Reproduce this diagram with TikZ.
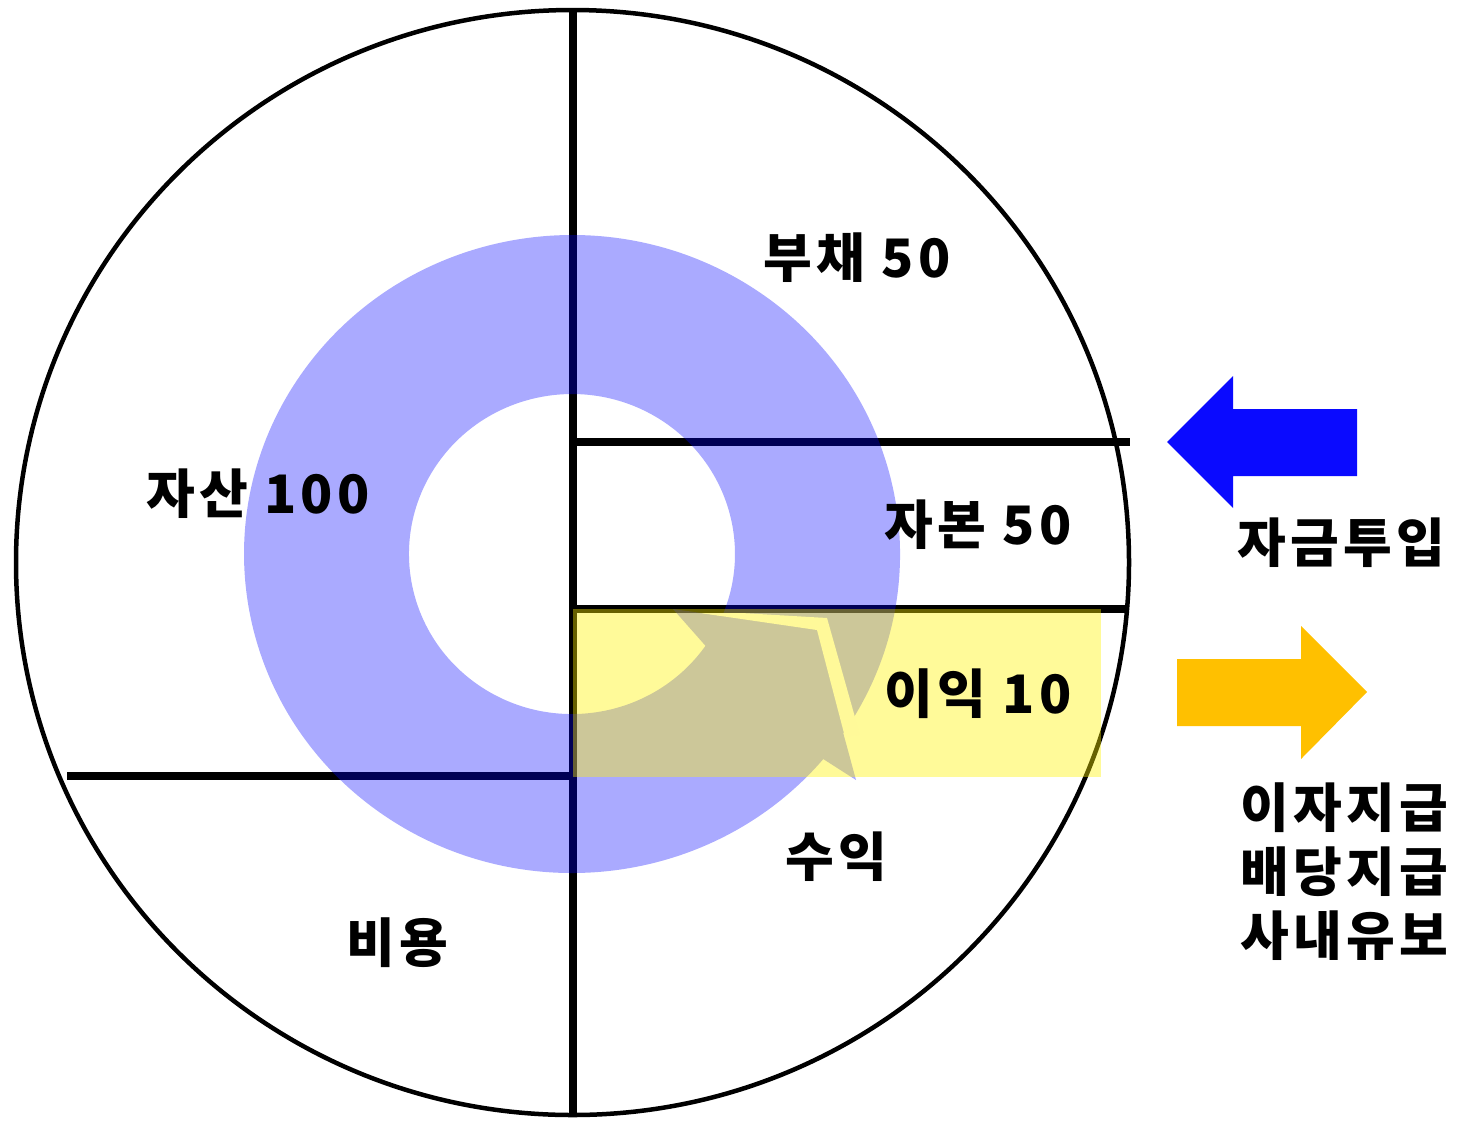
\documentclass[tikz,border=0pt]{standalone}
\usepackage{fontspec}
\newfontfamily\kr{Noto Sans CJK KR}[LetterSpace=8]
\definecolor{ringblue}{RGB}{0,0,255}
\definecolor{arrblue}{RGB}{10,10,255}
\definecolor{arrorange}{RGB}{255,192,0}
\begin{document}
\begin{tikzpicture}[x=1pt,y=-1pt,
  lbl/.style={font=\kr\bfseries\fontsize{53}{64}\selectfont, inner sep=0pt, align=center},
  blk/.style={line width=8pt, line cap=butt}]
\useasboundingbox (0,0) rectangle (1461,1120);
% outer circle and dividing lines
\draw[line width=4.5pt] (572.5,562.5) ellipse [x radius=556.5, y radius=552.5];
\coordinate (vtop) at (573,10);
\coordinate (vbot) at (573,1115);
\draw[blk] (vtop) -- (vbot);
\coordinate (l1a) at (573,442); \coordinate (l1b) at (1130,442);
\draw[blk] (l1a) -- (l1b);
\coordinate (l2a) at (573,609); \coordinate (l2b) at (1129,609);
\draw[blk] (l2a) -- (l2b);
\coordinate (l3a) at (67,776); \coordinate (l3b) at (573,776);
\draw[blk] (l3a) -- (l3b);
% circular blue arrow (semi-transparent)
\fill[ringblue, fill opacity=0.333, even odd rule]
  (843.3,733.3) arc[start angle=34.2, end angle=-320, x radius=328, y radius=319]
  -- (856,780) -- cycle
  (722.3,616) -- (673,609) -- (705.5,645.8)
  arc[start angle=35, end angle=382.8, x radius=163, y radius=160] -- cycle;
% white gap between arrow head and tail
\begin{scope}
  \clip (600,613.5) rectangle (900,800);
  \fill[white] (673,609) -- (827,618) -- (860,735) -- (845,737) -- (817,630) -- cycle;
\end{scope}
% yellow profit band
\fill[yellow, fill opacity=0.4] (573,609) rectangle (1101,777);
% labels
\node[lbl] (debt) at (857,258) {부채 50};
\node[lbl] (asset) at (258,494) {자산 100};
\node[lbl] (equity) at (978,525) {자본 50};
\node[lbl] (profit) at (978,694) {이익 10};
\node[lbl] (revenue) at (836,857) {수익};
\node[lbl] (cost) at (397,943) {비용};
\node[lbl] (inflow) at (1341,543) {자금투입};
\node[lbl] (outflow) at (1344,872) {이자지급\\배당지급\\사내유보};
% side arrows
\fill[arrblue] (1167,442) -- (1233,376) -- (1233,409) -- (1357,409) -- (1357,476) -- (1233,476) -- (1233,508) -- cycle;
\fill[arrorange] (1177,659) -- (1301,659) -- (1301,626) -- (1367,692) -- (1301,759) -- (1301,726) -- (1177,726) -- cycle;
\end{tikzpicture}
\end{document}
